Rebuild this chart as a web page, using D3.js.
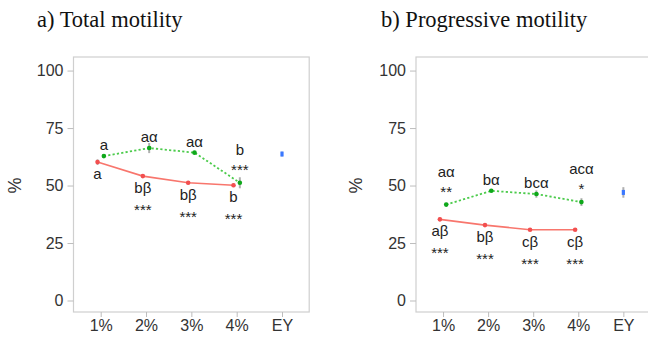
<!DOCTYPE html>
<html><head><meta charset="utf-8">
<script src="https://cdn.jsdelivr.net/npm/d3@7"></script>
<style>body{margin:0;background:#fff}svg{display:block}</style>
</head><body>
<svg id="c" width="648" height="342"></svg>
<script>
const categories = ["1%", "2%", "3%", "4%", "EY"];
const yTicks = [0, 25, 50, 75, 100];

// a) Total motility
const totalRed = [60.2, 54.1, 51.2, 50.1];
const totalRedErr = [1.2, 0.8, 0.8, 0.8];
const totalGreen = [62.8, 66.3, 64.3, 51.2];
const totalGreenErr = [0.8, 2.2, 0.6, 2.4];
const totalEY = [63.7];
const totalEYErr = [1.0];
const totalRedLetters = ["a", "bβ", "bβ", "b"];
const totalRedStars = ["", "***", "***", "***"];
const totalGreenLetters = ["a", "aα", "aα", "b"];
const totalGreenStars = ["", "", "", "***"];

// b) Progressive motility
const progRed = [35.3, 32.8, 30.8, 30.8];
const progRedErr = [0.8, 0.5, 0.5, 0.5];
const progGreen = [41.7, 47.7, 46.3, 42.8];
const progGreenErr = [0.8, 0.6, 1.6, 1.7];
const progEY = [47.0];
const progEYErr = [2.3];
const progRedLetters = ["aβ", "bβ", "cβ", "cβ"];
const progRedStars = ["***", "***", "***", "***"];
const progGreenLetters = ["aα", "bα", "bcα", "acα"];
const progGreenStars = ["**", "", "", "*"];

const panels = [
  {title: "a) Total motility", titleX: 37, left: 73.5, right: 309.2,
   red: totalRed, redErr: totalRedErr, green: totalGreen, greenErr: totalGreenErr,
   ey: totalEY, eyErr: totalEYErr, rl: totalRedLetters, rs: totalRedStars,
   gl: totalGreenLetters, gs: totalGreenStars, ylabX: 15},
  {title: "b) Progressive motility", titleX: 381, left: 416, right: 650.4,
   red: progRed, redErr: progRedErr, green: progGreen, greenErr: progGreenErr,
   ey: progEY, eyErr: progEYErr, rl: progRedLetters, rs: progRedStars,
   gl: progGreenLetters, gs: progGreenStars, ylabX: 356}
];

const RED = "#F8766D", GREENL = "#4CCB4C", BLUE = "#3A78FF", ERR = "#b0b0b0";
const svg = d3.select("#c");
const plotTop = 57, plotBottom = 312;
const y = d3.scaleLinear().domain([-5, 105.9]).range([plotBottom, plotTop]);
const font = "'Liberation Sans', Arial, sans-serif";

panels.forEach(p => {
  const g = svg.append("g");
  const x = d3.scaleLinear().domain([0.4, 5.6]).range([p.left, p.right]);
  const dodge = 0.07;

  g.append("text").attr("x", p.titleX).attr("y", 27)
    .attr("font-family", "'Liberation Serif', 'Times New Roman', serif")
    .attr("font-size", 22.5).attr("fill", "#111").text(p.title);

  g.append("rect").attr("x", p.left).attr("y", plotTop)
    .attr("width", p.right - p.left).attr("height", plotBottom - plotTop)
    .attr("fill", "none").attr("stroke", "#cfcfcf").attr("stroke-width", 1.2);

  const ya = d3.axisLeft(y).tickValues(yTicks).tickSize(6).tickPadding(4);
  const yg = g.append("g").attr("transform", `translate(${p.left},0)`).call(ya);
  yg.select(".domain").remove();
  yg.selectAll("line").attr("stroke", "#bdbdbd");
  yg.selectAll("text").attr("font-family", font).attr("font-size", 16).attr("fill", "#333");

  const xa = d3.axisBottom(x).tickValues([1, 2, 3, 4, 5])
    .tickFormat((d, i) => categories[i]).tickSize(5).tickPadding(3);
  const xg = g.append("g").attr("transform", `translate(0,${plotBottom})`).call(xa);
  xg.select(".domain").remove();
  xg.selectAll("line").attr("stroke", "#bdbdbd");
  xg.selectAll("text").attr("font-family", font).attr("font-size", 16).attr("fill", "#333");

  g.append("text").attr("transform", `translate(${p.ylabX + 6},${y(50)}) rotate(-90)`)
    .attr("text-anchor", "middle").attr("font-family", font).attr("font-size", 18)
    .attr("fill", "#333").text("%");

  const idx = [0, 1, 2, 3];
  const errBars = (vals, errs, off, xs) => {
    g.selectAll(null).data(vals).enter().append("line")
      .attr("x1", (d, i) => x((xs ? xs[i] : i + 1) + off))
      .attr("x2", (d, i) => x((xs ? xs[i] : i + 1) + off))
      .attr("y1", (d, i) => y(d - errs[i])).attr("y2", (d, i) => y(d + errs[i]))
      .attr("stroke", ERR).attr("stroke-width", 2);
  };
  errBars(p.red, p.redErr, -dodge);
  errBars(p.green, p.greenErr, dodge);
  errBars(p.ey, p.eyErr, 0, [5]);

  const redLine = d3.line().x((d, i) => x(i + 1 - dodge)).y(d => y(d));
  const greenLine = d3.line().x((d, i) => x(i + 1 + dodge)).y(d => y(d));
  g.append("path").attr("d", redLine(p.red)).attr("fill", "none")
    .attr("stroke", RED).attr("stroke-width", 1.6);
  g.append("path").attr("d", greenLine(p.green)).attr("fill", "none")
    .attr("stroke", GREENL).attr("stroke-width", 1.8).attr("stroke-dasharray", "2.2,2.2");

  g.selectAll(null).data(p.red).enter().append("circle")
    .attr("cx", (d, i) => x(i + 1 - dodge)).attr("cy", d => y(d)).attr("r", 2.3).attr("fill", "#F24F4F");
  g.selectAll(null).data(p.green).enter().append("circle")
    .attr("cx", (d, i) => x(i + 1 + dodge)).attr("cy", d => y(d)).attr("r", 2.3).attr("fill", "#0EA81A");
  g.selectAll(null).data(p.ey).enter().append("rect")
    .attr("x", d => x(5) - 1.6).attr("y", d => y(d) - 2.5).attr("width", 3.2).attr("height", 5).attr("fill", BLUE);

  const lab = (txt, xv, yy) => g.append("text").attr("x", x(xv)).attr("y", yy)
    .attr("text-anchor", "middle").attr("font-family", font).attr("font-size", 15)
    .attr("fill", "#222").text(txt);
  idx.forEach(i => {
    const gy = y(p.green[i]);
    if (p.gs[i]) {
      lab(p.gs[i], i + 1 + dodge, gy - 8);
      lab(p.gl[i], i + 1 + dodge, gy - 28);
    } else {
      lab(p.gl[i], i + 1 + dodge, gy - 6);
    }
    const ry = y(p.red[i]);
    lab(p.rl[i], i + 1 - dodge, ry + 17);
    if (p.rs[i]) lab(p.rs[i], i + 1 - dodge, ry + 39);
  });
});
</script>
</body></html>
